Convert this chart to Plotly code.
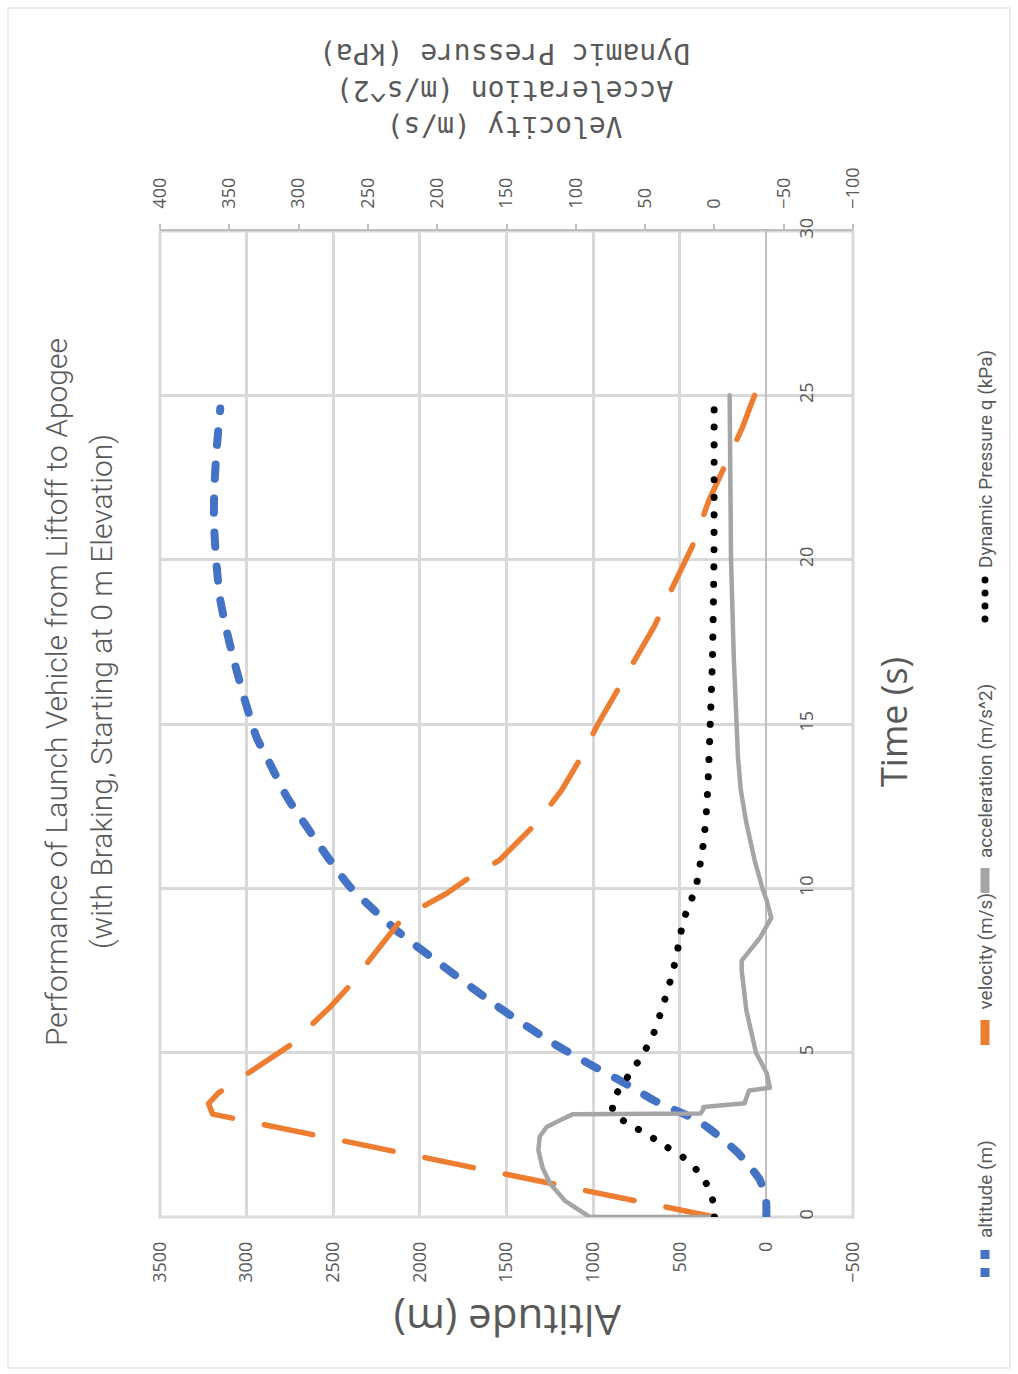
import plotly.graph_objects as go

# ---- series data ----
# altitude (m) vs time (s)
t_alt = [0, 0.5, 1.12, 1.53, 1.99, 2.75, 3.05, 3.56, 4.02, 4.68, 5.3, 6.4, 7.71, 8.72,
         10.05, 10.86, 11.88, 12.8, 13.8, 14.6, 15.72, 16.83, 17.85, 18.87, 20.0,
         21.2, 22.2, 23.3, 24.6]
altitude = [0, 2, 37, 95, 171, 345, 441, 653, 800, 1030, 1235, 1550, 1885, 2135,
            2404, 2520, 2654, 2770, 2866, 2943, 3010, 3068, 3116, 3155, 3176,
            3189, 3186, 3174, 3152]

# velocity (m/s)
t_vel = [0, 3.13, 3.45, 3.77, 5.23, 6.4, 7.0, 8.27, 9.1, 9.85, 10.35, 10.86, 12, 13,
         14, 15, 16, 17, 18, 19, 19.63, 20.4, 21.8, 22.6, 24.0, 25.0]
velocity = [0, 362, 365, 358, 306, 277, 264, 240, 225, 193, 176, 155, 128, 110,
            96, 84, 70, 56, 43, 32, 25, 16, 4, -5, -20, -29]

# acceleration (m/s^2)
t_acc = [0, 0, 0.5, 1.02, 1.5, 2.04, 2.45, 2.74, 2.95, 3.13, 3.15, 3.28, 3.35, 3.46,
         3.5, 3.85, 3.93, 4.38, 5.0, 6.3, 7.5, 7.8, 8.5, 9.1, 9.64, 9.95, 10.86,
         12, 13, 14, 15, 17, 20, 25]
acceleration = [0, 90, 108, 118.6, 124, 127, 126, 121, 111, 102, 10, 8, 8, -22,
                -22, -25, -40, -37.7, -30, -23, -19.7, -19.7, -33, -41, -37.7, -35, -29,
                -23, -19, -17, -16, -14, -12, -11]

# dynamic pressure q (kPa)
t_q = [0, 0.48, 1.0, 1.43, 1.82, 2.13, 2.46, 2.77, 3.1, 3.3, 3.56, 4.0, 4.47, 4.97,
       5.45, 6.45, 7.46, 8.5, 9.0, 9.54, 10.05, 10.58, 11.5, 12.5, 13.5, 15, 17, 20, 25]
dyn_q = [0, 1, 5.6, 12.8, 22.6, 34.4, 46.5, 59, 71.7, 73.5, 73, 67, 59, 51.5,
         45, 37, 30, 24.8, 22.6, 17.6, 13.3, 10.9, 7.5, 5.5, 4.3, 3.0, 1.4, 0.3, 0.2]

# ---- axes ----
alt_range = [3500, -500]
alt_ticks = [3500, 3000, 2500, 2000, 1500, 1000, 500, 0, -500]
sec_range = [400, -100]
sec_ticks = [400, 350, 300, 250, 200, 150, 100, 50, 0, -50, -100]
time_range = [0, 30]
time_ticks = [0, 5, 10, 15, 20, 25, 30]

series_names = ["altitude (m)", "velocity (m/s)", "acceleration (m/s^2)",
                "Dynamic Pressure q (kPa)"]
title_lines = ["Performance of Launch Vehicle from Liftoff to Apogee",
               "(with Braking, Starting at 0 m Elevation)"]

BLUE, ORANGE, GRAY, BLACK = "#4472C4", "#ED7D31", "#A5A5A5", "#000000"
TXT = "#595959"
GRID = "#D9D9D9"
TICKFONT = dict(family="Open Sans, DejaVu Sans, sans-serif", size=18, color=TXT)
NARROW = "Roboto, Liberation Sans, sans-serif"

W, H = 1018, 1374
L, R, T, B = 160, 165, 231, 157
PW, PH = W - L - R, H - T - B


def px_x(px):
    return (px - L) / PW


def px_y(py):
    return (H - B - py) / PH


fig = go.Figure()

fig.add_trace(go.Scatter(
    x=altitude, y=t_alt, mode="lines", name=series_names[0],
    line=dict(color=BLUE, width=8, dash="14px,20px", shape="spline", smoothing=0.6),
    xaxis="x", yaxis="y"))
fig.add_trace(go.Scatter(
    x=velocity, y=t_vel, mode="lines", name=series_names[1],
    line=dict(color=ORANGE, width=5.5, dash="49.5px,32.5px"),
    xaxis="x2", yaxis="y"))
fig.add_trace(go.Scatter(
    x=acceleration, y=t_acc, mode="lines", name=series_names[2],
    line=dict(color=GRAY, width=4.5),
    xaxis="x2", yaxis="y"))
fig.add_trace(go.Scatter(
    x=dyn_q, y=t_q, mode="lines", name=series_names[3],
    line=dict(color=BLACK, width=7, dash="0.1px,17.4px", shape="spline", smoothing=0.5),
    xaxis="x2", yaxis="y"))

zero_pos = (0 - alt_range[0]) / (alt_range[1] - alt_range[0])

fig.update_layout(
    width=W, height=H,
    margin=dict(l=L, r=R, t=T, b=B, pad=0),
    paper_bgcolor="white", plot_bgcolor="white",
    showlegend=False,
    xaxis=dict(
        range=alt_range, tickvals=alt_ticks, tickangle=-90, tickfont=TICKFONT,
        showgrid=True, gridcolor=GRID, gridwidth=3,
        zeroline=True, zerolinecolor="#BFBFBF", zerolinewidth=1.5,
        ticks="", ticklabelstandoff=20, showline=False, anchor="y", domain=[0, 1]),
    xaxis2=dict(
        range=sec_range, tickvals=sec_ticks, tickangle=-90, tickfont=TICKFONT,
        overlaying="x", side="top", anchor="y",
        showgrid=False, zeroline=False,
        showline=True, linecolor="#BFBFBF", linewidth=1.5,
        ticks="outside", ticklen=5, tickcolor="#BFBFBF", tickwidth=1.5,
        ticklabelstandoff=12),
    yaxis=dict(
        range=time_range, tickvals=time_ticks, tickangle=-90, tickfont=TICKFONT,
        showgrid=True, gridcolor=GRID, gridwidth=3, zeroline=False,
        anchor="free", position=zero_pos, side="right", ticks="",
        ticklabelstandoff=28, showline=False, domain=[0, 1]),
)

shapes = [
    # plot-area frame
    dict(type="rect", xref="paper", yref="paper", x0=0, x1=1, y0=0, y1=1,
         line=dict(color=GRID, width=3), layer="below"),
    # chart-area border
    dict(type="rect", xref="paper", yref="paper",
         x0=px_x(8), x1=px_x(1010), y0=px_y(1368), y1=px_y(8),
         line=dict(color="#D9D9D9", width=1), layer="below"),
]


def label(text, cx, cy, angle, font, **kw):
    d = dict(text=text, xref="paper", yref="paper", x=px_x(cx), y=px_y(cy),
             xanchor="center", yanchor="middle", textangle=angle,
             showarrow=False, font=font)
    d.update(kw)
    return d


title_font = dict(family=NARROW, size=30, color=TXT, weight=300)
annotations = [
    label(title_lines[0], 56, 692, -90, title_font),
    label(title_lines[1], 101, 692, -90, title_font),
    label("Time (s)", 893, 722, -90,
          dict(family="Open Sans, sans-serif", size=36, color=TXT)),
    label("Altitude (m)", 508, 1322, 180,
          dict(family="Open Sans, sans-serif", size=42, color=TXT)),
    label("Velocity (m/s)<br>Acceleration (m/s^2)<br>Dynamic Pressure (kPa)",
          505, 90, 180, dict(family="DejaVu Sans Mono, monospace", size=28, color=TXT)),
]

# legend column on the right, reading bottom-to-top
LX = 985
leg_font = dict(family=NARROW, size=19, color=TXT)
legend_items = [
    (series_names[0], 1240),
    (series_names[1], 1012),
    (series_names[2], 860),
    (series_names[3], 570),
]
for name, y_bottom in legend_items:
    annotations.append(label(name, LX, y_bottom, -90, leg_font, yanchor="bottom"))

# legend keys
for y0, y1 in [(1250, 1259), (1268, 1277)]:
    shapes.append(dict(type="line", xref="paper", yref="paper", x0=px_x(LX), x1=px_x(LX),
                       y0=px_y(y0), y1=px_y(y1), line=dict(color=BLUE, width=9)))
shapes.append(dict(type="line", xref="paper", yref="paper", x0=px_x(LX), x1=px_x(LX),
                   y0=px_y(1020), y1=px_y(1045), line=dict(color=ORANGE, width=9)))
shapes.append(dict(type="line", xref="paper", yref="paper", x0=px_x(LX), x1=px_x(LX),
                   y0=px_y(868), y1=px_y(893), line=dict(color=GRAY, width=9)))
for cy in [580, 593, 606, 619]:
    shapes.append(dict(type="circle", xref="paper", yref="paper",
                       x0=px_x(LX - 3.5), x1=px_x(LX + 3.5),
                       y0=px_y(cy + 3.5), y1=px_y(cy - 3.5),
                       fillcolor=BLACK, line=dict(width=0)))

fig.update_layout(shapes=shapes, annotations=annotations)

# rounded line ends for the dashed and dotted series
round_caps = ("document.querySelectorAll('.scatterlayer path.js-line').forEach("
              "function(p){p.style.strokeLinecap='round';p.style.strokeLinejoin='round';});")

fig.write_html("out.html", post_script=round_caps)
